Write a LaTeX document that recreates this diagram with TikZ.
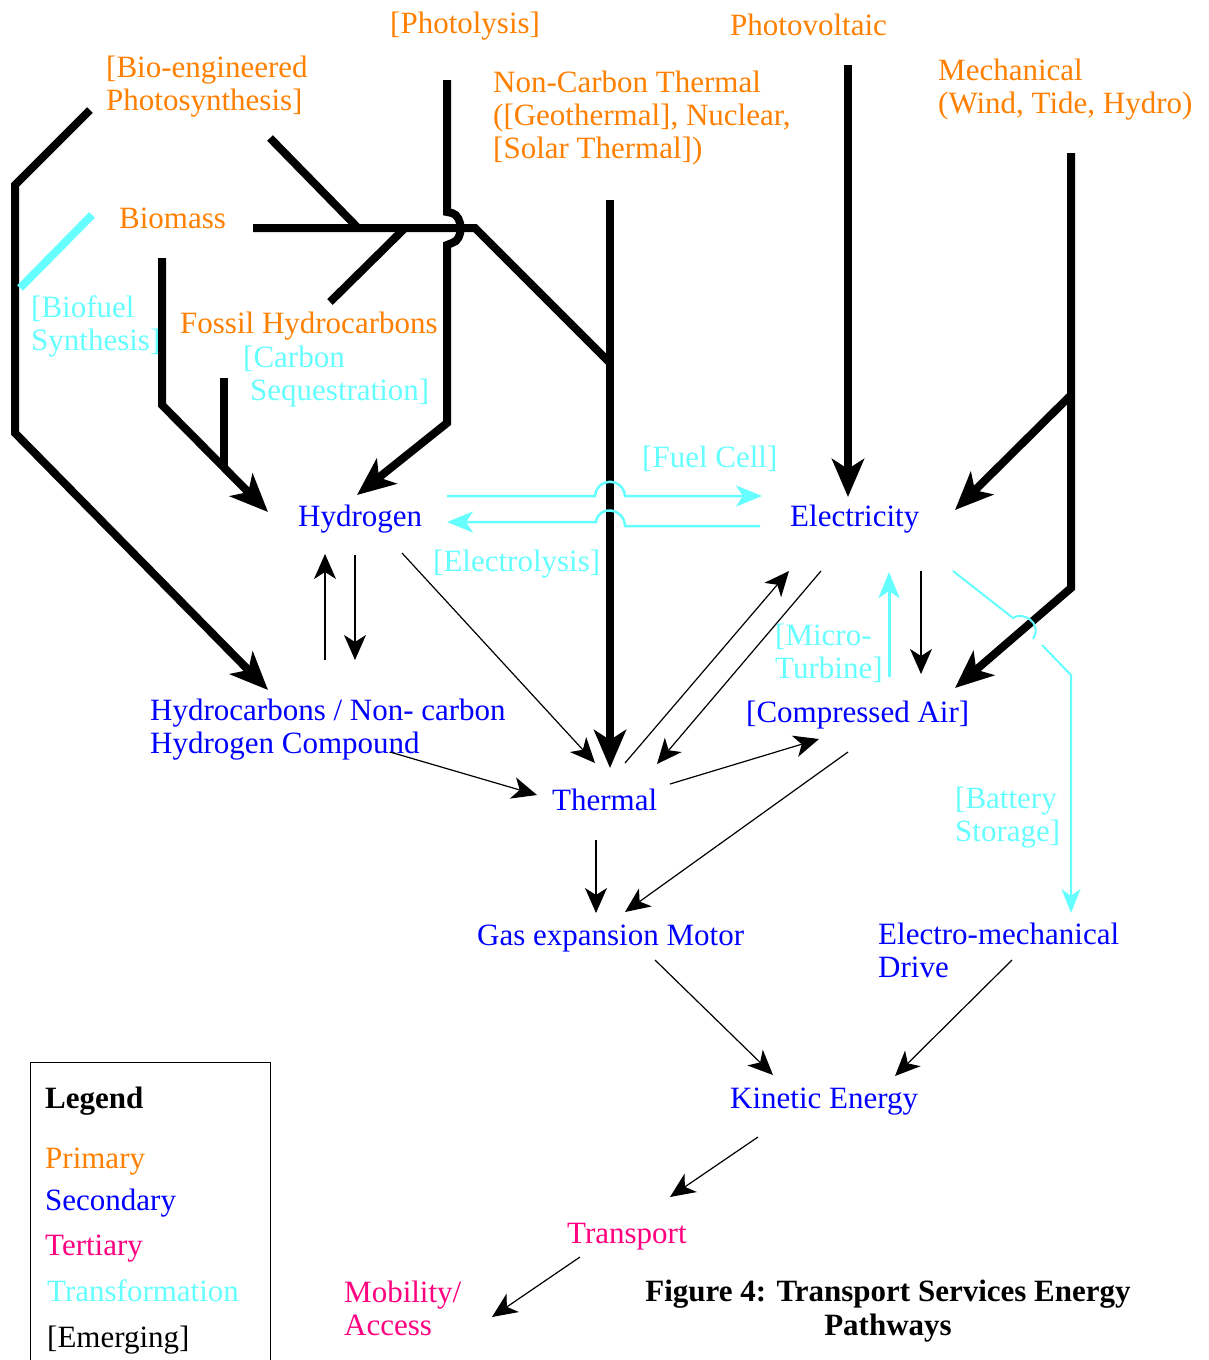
\documentclass[tikz,border=0pt]{standalone}
\usepackage{fontspec}
\setmainfont{Liberation Serif}
\usetikzlibrary{arrows.meta}
\definecolor{prim}{RGB}{255,128,0}
\definecolor{sec}{RGB}{0,0,255}
\definecolor{ter}{RGB}{255,0,128}
\definecolor{trans}{RGB}{102,255,255}
\begin{document}
\begin{tikzpicture}[x=1pt,y=-1pt,
  lbl/.style={anchor=base west,inner sep=0pt,align=left,font=\fontsize{31}{33}\selectfont},
  primary/.style={lbl,text=prim},
  secondary/.style={lbl,text=sec},
  tertiary/.style={lbl,text=ter},
  transf/.style={lbl,text=trans},
  heavy/.style={line width=8pt,line join=miter},
  heavyarr/.style={heavy,-{Stealth[length=38pt,width=32pt,inset=10pt]}},
  thinarr/.style={line width=1.2pt,-{Stealth[length=25pt,width=22pt,inset=7pt]}},
  cyarr/.style={draw=trans,line width=2.5pt,-{Stealth[length=26pt,width=21pt,inset=7pt]}},
]
\fill[white] (0,0) rectangle (1209,1360);
\useasboundingbox (0,0) rectangle (1209,1360);

% ---------- labels (multi-line: position = baseline of last line) ----------
\node[primary] (photolysis) at (390,33) {[Photolysis]};
\node[primary] (photovoltaic) at (730,35) {Photovoltaic};
\node[primary] (bio) at (106,110) {[Bio-engineered\\Photosynthesis]};
\node[primary] (noncarbon) at (493,158) {Non-Carbon Thermal\\([Geothermal], Nuclear,\\{[}Solar Thermal])};
\node[primary] (mech) at (938,113) {Mechanical\\(Wind, Tide, Hydro)};
\node[primary] (biomass) at (119,228) {Biomass};
\node[transf] (biofuel) at (31,350) {[Biofuel\\Synthesis]};
\node[primary] (fossil) at (180,333) {Fossil Hydrocarbons};
\node[transf] (carbseq) at (243,400) {[Carbon\\\hspace*{7pt}Sequestration]};
\node[secondary] (hydrogen) at (298,526) {Hydrogen};
\node[secondary] (electricity) at (790,526) {Electricity};
\node[transf] (fuelcell) at (642,467) {[Fuel Cell]};
\node[transf] (electrolysis) at (433,571) {[Electrolysis]};
\node[transf] (microturb) at (775,678) {[Micro-\\Turbine]};
\node[secondary] (hcc) at (150,753) {Hydrocarbons / Non- carbon\\Hydrogen Compound};
\node[secondary] (compair) at (746,722) {[Compressed Air]};
\node[secondary] (thermal) at (552,810) {Thermal};
\node[transf] (battery) at (955,841) {[Battery\\Storage]};
\node[secondary] (gasmotor) at (477,945) {Gas expansion Motor};
\node[secondary] (emdrive) at (878,977) {Electro-mechanical\\Drive};
\node[secondary] (kinetic) at (730,1108) {Kinetic Energy};
\node[tertiary] (transport) at (567,1243) {Transport};
\node[tertiary] (mobility) at (344,1335) {Mobility/\\Access};
\node[lbl,anchor=base,align=center,font=\fontsize{31}{34}\selectfont\bfseries] (caption) at (888,1335) {Figure 4: Transport Services Energy\\Pathways};

% ---------- legend ----------
\draw[line width=0.8pt] (30,1362) -- (30,1062) -- (270,1062) -- (270,1362);
\node[lbl,font=\fontsize{31}{33}\selectfont\bfseries] (legtitle) at (45,1108) {Legend};
\node[primary] (legprim) at (45,1168) {Primary};
\node[secondary] (legsec) at (45,1210) {Secondary};
\node[tertiary] (legter) at (45,1255) {Tertiary};
\node[transf] (legtrans) at (47,1301) {Transformation};
\node[lbl] (legemerg) at (47,1347) {[Emerging]};

% ---------- coordinates ----------
\coordinate (bioA) at (90,110);
\coordinate (bioB) at (270,138);
\coordinate (junc1) at (358,228);
\coordinate (bmA) at (253,228);
\coordinate (bmB) at (162,258);
\coordinate (fosA) at (330,302);
\coordinate (fosJ) at (405,228);
\coordinate (csA) at (224,378);
\coordinate (csJ) at (224,466);
\coordinate (plA) at (447,80);
\coordinate (ncA) at (610,200);
\coordinate (ncJ) at (610,363);
\coordinate (pvA) at (848,65);
\coordinate (meA) at (1071,153);
\coordinate (meJ) at (1071,395);
\coordinate (hydTipL) at (268,512);
\coordinate (hydTipR) at (357,495);
\coordinate (hccTip) at (268,690);
\coordinate (thTop) at (610,768);
\coordinate (elTop) at (848,497);
\coordinate (elTipR) at (955,510);
\coordinate (caTip) at (955,688);
\coordinate (bfA) at (92,215);
\coordinate (bfB) at (20,288);

% ---------- heavy primary paths ----------
\draw[heavyarr] (bioA) -- (15,185) -- (15,433) -- (hccTip);
\draw[line width=8pt,draw=trans] (bfA) -- (bfB);
\draw[heavy] (bioB) -- (junc1);
\draw[heavy] (bmA) -- (475,228) -- (ncJ);
\draw[heavy] (fosA) -- (fosJ);
\draw[heavyarr] (bmB) -- (162,405) -- (hydTipL);
\draw[heavy] (csA) -- (csJ);
\draw[heavyarr] (plA) -- (447,212) -- (452,213) .. controls (463,216) and (464,240) .. (452,243) -- (447,245) -- (447,423) -- (hydTipR);
\draw[heavyarr] (ncA) -- (thTop);
\draw[heavyarr] (pvA) -- (elTop);
\draw[heavyarr] (meA) -- (1071,588) -- (caTip);
\draw[heavyarr] (meJ) -- (elTipR);

% ---------- transformation (cyan) ----------
\draw[cyarr] (447,496) -- (595,496) .. controls (597,477) and (623,477) .. (625,496) -- (762,496);
\draw[cyarr] (760,526) -- (625,526) .. controls (624,507) and (598,505) .. (596,522) -- (447,522);
\draw[cyarr,line width=3pt] (889,677) -- (889,572);
\draw[draw=trans,line width=2pt] (953,571) -- (1013,618) .. controls (1022,611) and (1043,622) .. (1033,639);
\draw[draw=trans,line width=2pt,-{Stealth[length=24pt,width=19pt,inset=7pt]}] (1042,645) -- (1071,675) -- (1071,913);

% ---------- thin secondary arrows ----------
\draw[thinarr] (325,660) -- (325,554);
\draw[thinarr] (355,555) -- (355,660);
\draw[thinarr] (402,553) -- (595,763);
\draw[thinarr] (390,752) -- (537,795);
\draw[thinarr] (625,763) -- (789,571);
\draw[thinarr] (821,571) -- (657,764);
\draw[thinarr] (670,784) -- (819,739);
\draw[thinarr] (921,571) -- (921,674);
\draw[thinarr] (848,752) -- (625,912);
\draw[thinarr] (596,840) -- (596,913);
\draw[thinarr] (655,960) -- (773,1075);
\draw[thinarr] (1012,960) -- (895,1076);
\draw[thinarr] (758,1137) -- (670,1197);
\draw[thinarr] (580,1257) -- (492,1317);
\end{tikzpicture}
\end{document}
